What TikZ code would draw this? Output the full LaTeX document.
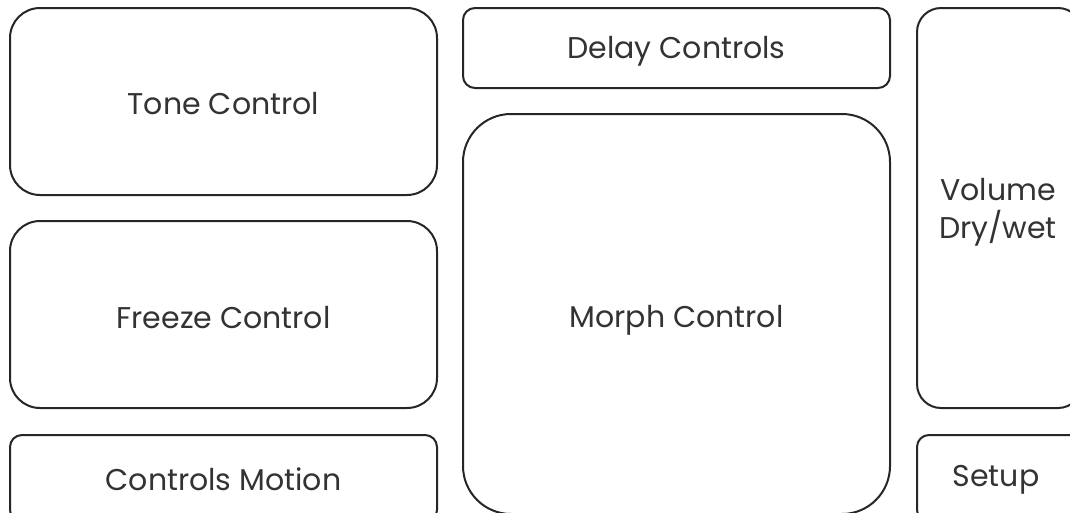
\documentclass[tikz,border=0pt]{standalone}
\usepackage{fontspec}
\setmainfont{Poppins}
\begin{document}
\begin{tikzpicture}[x=1pt,y=-1pt,
  panel/.style={draw=black!85, line width=2pt, fill=white},
  lbl/.style={font=\fontsize{30}{38}\selectfont, text=black!80, align=center}]
\useasboundingbox (0,0) rectangle (1070,512);
\clip (0,0) rectangle (1070,512);
\draw[panel, rounded corners=30pt] (10,8) rectangle (437,195);
\node[lbl] (tone) at (223.5,104) {Tone Control};
\draw[panel, rounded corners=30pt] (10,221) rectangle (437,408);
\node[lbl] (freeze) at (223.5,318) {Freeze Control};
\draw[panel, rounded corners=12pt] (10,435) rectangle (437,522);
\node[lbl] (motion) at (223.5,479) {Controls Motion};
\draw[panel, rounded corners=12pt] (463,8) rectangle (890,88);
\node[lbl] (delay) at (676.5,51) {Delay Controls};
\draw[panel, rounded corners=48pt] (463,114) rectangle (890,514);
\node[lbl] (morph) at (676.5,320) {Morph Control};
\draw[panel, rounded corners=24pt] (917,8) rectangle (1082,408);
\node[lbl, align=center] (volume) at (998,212) {Volume\\Dry/wet};
\draw[panel, rounded corners=12pt] (917,435) rectangle (1082,522);
\node[lbl] (setup) at (996,480) {Setup};
\end{tikzpicture}
\end{document}
